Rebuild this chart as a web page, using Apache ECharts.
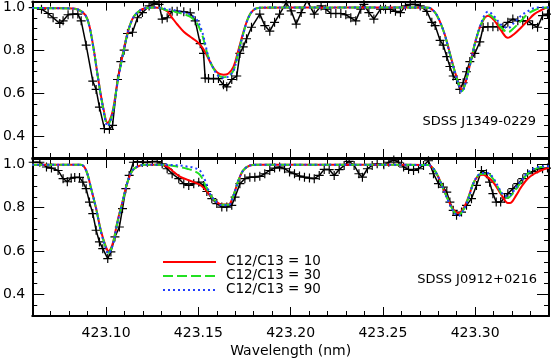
<!DOCTYPE html>
<html><head><meta charset="utf-8">
<script src="https://cdn.jsdelivr.net/npm/echarts@6/dist/echarts.min.js"></script>
<style>html,body{margin:0;padding:0;background:#fff}#c{width:551px;height:362px}</style>
</head><body><div id="c"></div>
<script>
// ---- axis ranges & tick labels ----
const xMin = 423.06, xMax = 423.34;
const yMin = 0.3, yMax = 1.025;
const xMajorTicks = [423.10, 423.15, 423.20, 423.25, 423.30];
const yMajorTicks = [0.4, 0.6, 0.8, 1.0];
const legendLabels = ['C12/C13 = 10', 'C12/C13 = 30', 'C12/C13 = 90'];
const panelLabels = ['SDSS J1349-0229', 'SDSS J0912+0216'];

// ---- top panel: observed spectrum (SDSS J1349-0229) ----
const obsTopWave = [423.0605,423.0650,423.0686,423.0713,423.0749,423.0767,423.0794,423.0820,423.0847,423.0865,423.0892,423.0928,423.0946,423.0964,423.0991,423.1018,423.1035,423.1062,423.1080,423.1098,423.1116,423.1143,423.1170,423.1197,423.1233,423.1260,423.1287,423.1304,423.1331,423.1358,423.1385,423.1421,423.1456,423.1483,423.1510,423.1528,423.1537,423.1555,423.1582,423.1609,423.1636,423.1654,423.1681,423.1708,423.1725,423.1743,423.1761,423.1788,423.1833,423.1860,423.1887,423.1913,423.1940,423.1976,423.2003,423.2030,423.2057,423.2089,423.2128,423.2165,423.2191,423.2218,423.2245,423.2272,423.2299,423.2326,423.2353,423.2380,423.2397,423.2424,423.2451,423.2487,423.2514,423.2541,423.2568,423.2595,423.2622,423.2648,423.2675,423.2702,423.2738,423.2765,423.2783,423.2810,423.2827,423.2846,423.2863,423.2881,423.2899,423.2917,423.2935,423.2953,423.2971,423.2998,423.3025,423.3043,423.3069,423.3096,423.3123,423.3150,423.3177,423.3204,423.3231,423.3258,423.3284,423.3311,423.3338,423.3365,423.3392];
const obsTopFlux = [0.997,0.99,0.97,0.95,0.924,0.936,0.964,0.967,0.967,0.936,0.823,0.656,0.618,0.536,0.436,0.433,0.451,0.664,0.747,0.80,0.877,0.883,0.95,0.974,1.005,1.015,1.012,0.944,0.95,0.98,0.98,0.978,0.973,0.936,0.83,0.785,0.67,0.668,0.668,0.668,0.64,0.63,0.664,0.68,0.785,0.815,0.853,0.906,0.967,0.914,0.888,0.929,0.967,1.02,0.982,0.921,0.974,1.03,0.967,1.005,0.99,0.97,0.97,0.97,0.964,0.95,0.936,0.99,1.012,0.974,0.944,0.99,0.99,0.99,0.98,0.974,1.005,1.012,1.012,1.005,0.98,0.929,0.914,0.845,0.823,0.77,0.724,0.68,0.664,0.618,0.649,0.70,0.747,0.785,0.838,0.906,0.909,0.909,0.909,0.906,0.929,0.944,0.936,0.936,0.936,0.918,0.906,0.96,0.967];

// ---- top panel: synthetic spectra ----
const modTopWave = [423.0600,423.0820,423.0874,423.0901,423.0928,423.0955,423.0982,423.1009,423.1035,423.1062,423.1089,423.1116,423.1143,423.1170,423.1206,423.1260,423.1294,423.1331,423.1358,423.1385,423.1421,423.1456,423.1492,423.1519,423.1537,423.1555,423.1582,423.1609,423.1636,423.1663,423.1690,423.1717,423.1743,423.1770,423.1797,423.1833,423.2057,423.2191,423.2326,423.2595,423.2747,423.2783,423.2810,423.2837,423.2863,423.2890,423.2917,423.2928,423.2944,423.2971,423.2998,423.3025,423.3052,423.3069,423.3105,423.3141,423.3177,423.3213,423.3249,423.3284,423.3320,423.3356,423.3392,423.3400];
const modTopR10 = [0.995,0.993,0.975,0.94,0.83,0.68,0.545,0.462,0.515,0.655,0.775,0.878,0.945,0.975,0.993,0.998,0.995,0.98,0.95,0.92,0.885,0.862,0.84,0.815,0.79,0.76,0.717,0.692,0.686,0.692,0.722,0.80,0.88,0.95,0.985,0.997,0.998,0.997,0.998,0.998,0.997,0.974,0.93,0.868,0.785,0.70,0.632,0.615,0.64,0.73,0.83,0.905,0.95,0.96,0.936,0.89,0.857,0.876,0.905,0.936,0.967,0.985,0.998,0.998];
const modTopR30 = [0.995,0.993,0.975,0.936,0.828,0.678,0.54,0.452,0.508,0.65,0.77,0.876,0.945,0.975,0.993,0.998,0.995,0.985,0.982,0.975,0.967,0.955,0.925,0.875,0.82,0.765,0.715,0.682,0.674,0.68,0.705,0.79,0.875,0.948,0.985,0.997,0.998,0.997,0.998,0.998,0.997,0.974,0.93,0.866,0.782,0.698,0.628,0.61,0.638,0.728,0.828,0.905,0.955,0.965,0.945,0.905,0.883,0.905,0.936,0.967,0.985,0.995,0.998,0.998];
const modTopR90 = [0.995,0.993,0.975,0.936,0.828,0.678,0.54,0.448,0.506,0.648,0.77,0.876,0.945,0.975,0.993,0.998,0.995,0.99,0.987,0.982,0.975,0.965,0.94,0.89,0.83,0.768,0.715,0.68,0.672,0.678,0.703,0.79,0.875,0.948,0.985,0.997,0.998,0.997,0.998,0.998,0.997,0.974,0.93,0.866,0.782,0.698,0.626,0.607,0.636,0.728,0.83,0.908,0.965,0.978,0.955,0.918,0.902,0.929,0.96,0.98,0.995,0.998,0.998,0.998];

// ---- bottom panel: observed spectrum (SDSS J0912+0216) ----
const obsBotWave = [423.0605,423.0641,423.0677,423.0704,423.0740,423.0767,423.0790,423.0811,423.0830,423.0856,423.0874,423.0892,423.0910,423.0928,423.0946,423.0964,423.0982,423.1009,423.1026,423.1048,423.1072,423.1089,423.1107,423.1125,423.1148,423.1170,423.1197,423.1224,423.1251,423.1277,423.1304,423.1331,423.1358,423.1394,423.1421,423.1448,423.1475,423.1502,423.1528,423.1546,423.1573,423.1600,423.1627,423.1654,423.1681,423.1699,423.1725,423.1752,423.1779,423.1806,423.1833,423.1860,423.1887,423.1913,423.1940,423.1967,423.1994,423.2021,423.2048,423.2075,423.2102,423.2128,423.2155,423.2182,423.2209,423.2236,423.2263,423.2290,423.2317,423.2344,423.2370,423.2389,423.2416,423.2442,423.2469,423.2505,423.2532,423.2559,423.2585,423.2612,423.2639,423.2666,423.2693,423.2720,423.2747,423.2774,423.2801,423.2827,423.2846,423.2863,423.2881,423.2899,423.2926,423.2953,423.2980,423.3007,423.3034,423.3061,423.3078,423.3096,423.3114,423.3138,423.3159,423.3177,423.3204,423.3231,423.3258,423.3284,423.3311,423.3338,423.3365,423.3392];
const obsBotFlux = [1.01,1.01,0.988,0.983,0.972,0.934,0.92,0.937,0.94,0.94,0.918,0.888,0.826,0.773,0.696,0.642,0.611,0.565,0.596,0.665,0.711,0.796,0.888,0.949,1.01,1.013,1.01,1.01,1.013,1.013,1.003,0.98,0.957,0.934,0.911,0.903,0.911,0.918,0.903,0.875,0.842,0.819,0.803,0.803,0.811,0.849,0.911,0.934,0.941,0.941,0.945,0.957,0.972,0.983,0.988,0.98,0.965,0.957,0.946,0.941,0.937,0.934,0.949,0.977,0.976,0.949,0.976,0.995,1.014,0.995,0.957,0.941,0.98,0.995,1.003,0.998,1.01,1.02,1.01,0.988,0.977,0.972,0.98,0.995,1.017,0.957,0.911,0.895,0.872,0.826,0.788,0.765,0.78,0.811,0.842,0.903,0.972,0.957,0.918,0.865,0.826,0.826,0.845,0.865,0.888,0.911,0.934,0.957,0.967,0.98,0.98,0.983];

// ---- bottom panel: synthetic spectra ----
const modBotWave = [423.0600,423.0863,423.0892,423.0919,423.0946,423.0973,423.1000,423.1012,423.1035,423.1062,423.1089,423.1116,423.1143,423.1170,423.1206,423.1294,423.1331,423.1367,423.1403,423.1439,423.1475,423.1510,423.1537,423.1564,423.1591,423.1627,423.1663,423.1690,423.1717,423.1743,423.1779,423.1815,423.2057,423.2326,423.2595,423.2747,423.2774,423.2801,423.2827,423.2854,423.2881,423.2908,423.2935,423.2962,423.2989,423.3016,423.3043,423.3069,423.3096,423.3123,423.3150,423.3177,423.3195,423.3222,423.3249,423.3284,423.3320,423.3356,423.3392,423.3400];
const modBotR10 = [0.998,0.998,0.972,0.888,0.796,0.69,0.617,0.60,0.632,0.738,0.828,0.918,0.972,0.99,0.998,0.998,0.99,0.965,0.942,0.93,0.918,0.905,0.885,0.857,0.832,0.815,0.815,0.857,0.926,0.972,0.995,0.998,0.998,0.998,0.998,0.997,0.98,0.941,0.888,0.836,0.792,0.775,0.795,0.845,0.911,0.947,0.952,0.94,0.92,0.885,0.849,0.822,0.824,0.857,0.895,0.934,0.957,0.972,0.983,0.984];
const modBotR30 = [0.998,0.998,0.972,0.888,0.796,0.688,0.613,0.592,0.627,0.734,0.826,0.918,0.972,0.99,0.998,0.998,0.997,0.993,0.987,0.98,0.97,0.95,0.905,0.86,0.832,0.814,0.814,0.857,0.926,0.972,0.995,0.998,0.998,0.998,0.998,0.997,0.98,0.941,0.888,0.834,0.788,0.765,0.788,0.842,0.911,0.949,0.957,0.957,0.934,0.895,0.857,0.846,0.857,0.888,0.918,0.957,0.977,0.988,0.99,0.99];
const modBotR90 = [0.998,0.998,0.972,0.888,0.796,0.686,0.61,0.588,0.625,0.733,0.826,0.918,0.972,0.99,0.998,0.998,0.998,0.997,0.995,0.99,0.985,0.97,0.925,0.862,0.832,0.812,0.812,0.855,0.926,0.972,0.995,0.998,0.998,0.998,0.998,0.997,0.98,0.94,0.886,0.832,0.786,0.762,0.786,0.84,0.91,0.95,0.96,0.96,0.94,0.90,0.862,0.852,0.862,0.895,0.925,0.962,0.982,0.99,0.992,0.992];

// ---- helpers ----
const FONT = 'DejaVu Sans';
const zip = (a, b) => a.map((v, i) => [v, b[i]]);
const xMinorTicks = [];
for (let i = 0; i <= 28; i++) xMinorTicks.push(+(xMin + i * 0.01).toFixed(2));
const yMinorTicks = [];
for (let i = 0; i <= 14; i++) yMinorTicks.push(+(yMin + i * 0.05).toFixed(2));

const COL = {obs: '#000000', r10: '#ff0000', r30: '#22e022', r90: '#1f3dff'};

function xAxesFor(g, showLabels) {
  const base = {type: 'value', gridIndex: g, min: xMin, max: xMax, splitLine: {show: false}};
  const major = (pos) => Object.assign({}, base, {
    position: pos,
    axisLine: {show: true, onZero: false, lineStyle: {color: '#000', width: 2}},
    axisTick: {show: true, inside: true, length: 9, customValues: xMajorTicks, lineStyle: {color: '#000', width: 1}},
    axisLabel: {show: showLabels && pos === 'bottom', customValues: xMajorTicks, formatter: v => v.toFixed(2),
      color: '#000', fontFamily: FONT, fontSize: 14, margin: 10},
    name: (showLabels && pos === 'bottom') ? 'Wavelength (nm)' : '',
    nameLocation: 'middle', nameGap: 28,
    nameTextStyle: {color: '#000', fontFamily: FONT, fontSize: 14}
  });
  const minor = (pos) => Object.assign({}, base, {
    position: pos,
    axisLine: {show: false, onZero: false},
    axisTick: {show: true, inside: true, length: 5, customValues: xMinorTicks, lineStyle: {color: '#000', width: 1}},
    axisLabel: {show: false}
  });
  return [major('bottom'), minor('bottom'), major('top'), minor('top')];
}
function yAxesFor(g) {
  const base = {type: 'value', gridIndex: g, min: yMin, max: yMax, splitLine: {show: false}};
  const major = (pos) => Object.assign({}, base, {
    position: pos,
    axisLine: {show: true, onZero: false, lineStyle: {color: '#000', width: 2}},
    axisTick: {show: true, inside: true, length: 12, customValues: yMajorTicks, lineStyle: {color: '#000', width: 1}},
    axisLabel: {show: pos === 'left', customValues: yMajorTicks, formatter: v => v.toFixed(1),
      color: '#000', fontFamily: FONT, fontSize: 14, margin: 7}
  });
  const minor = (pos) => Object.assign({}, base, {
    position: pos,
    axisLine: {show: false, onZero: false},
    axisTick: {show: true, inside: true, length: 5, customValues: yMinorTicks, lineStyle: {color: '#000', width: 1}},
    axisLabel: {show: false}
  });
  return [major('left'), minor('left'), major('right'), minor('right')];
}

const PLUS = 'path://M-1,-0.13L1,-0.13L1,0.13L-1,0.13Z M-0.13,-1L0.13,-1L0.13,1L-0.13,1Z';
function obsSeries(idx, data) {
  return {type: 'line', xAxisIndex: idx, yAxisIndex: idx, data: data, symbol: PLUS, symbolSize: 9,
    showSymbol: true, showAllSymbol: true, itemStyle: {color: '#000'},
    lineStyle: {color: COL.obs, width: 1.5}, z: 2, silent: true};
}
function modSeries(idx, data, color, type, z) {
  return {type: 'line', xAxisIndex: idx, yAxisIndex: idx, data: data, symbol: 'none', smooth: 0.35,
    lineStyle: {color: color, width: 2, type: type}, z: z, silent: true};
}
const DASH = [10, 4], DOT = [2, 3];

const option = {
  animation: false,
  backgroundColor: '#fff',
  grid: [
    {left: 29, right: 2, top: 0, height: 158},
    {left: 29, right: 2, top: 159, height: 157}
  ],
  xAxis: xAxesFor(0, false).concat(xAxesFor(1, true)),
  yAxis: yAxesFor(0).concat(yAxesFor(1)),
  series: [
    obsSeries(0, zip(obsTopWave, obsTopFlux)),
    modSeries(0, zip(modTopWave, modTopR10), COL.r10, 'solid', 3),
    modSeries(0, zip(modTopWave, modTopR30), COL.r30, DASH, 4),
    modSeries(0, zip(modTopWave, modTopR90), COL.r90, DOT, 5),
    obsSeries(4, zip(obsBotWave, obsBotFlux)),
    modSeries(4, zip(modBotWave, modBotR10), COL.r10, 'solid', 3),
    modSeries(4, zip(modBotWave, modBotR30), COL.r30, DASH, 4),
    modSeries(4, zip(modBotWave, modBotR90), COL.r90, DOT, 5)
  ],
  graphic: [
    {type: 'text', x: 536, y: 122, style: {text: panelLabels[0], fill: '#000', font: '13px "DejaVu Sans"', align: 'right', verticalAlign: 'middle'}},
    {type: 'text', x: 537, y: 280, style: {text: panelLabels[1], fill: '#000', font: '13px "DejaVu Sans"', align: 'right', verticalAlign: 'middle'}},
    {type: 'line', shape: {x1: 163, y1: 262, x2: 216, y2: 262}, style: {stroke: COL.r10, lineWidth: 2}},
    {type: 'line', shape: {x1: 163, y1: 276, x2: 216, y2: 276}, style: {stroke: COL.r30, lineWidth: 2, lineDash: DASH}},
    {type: 'line', shape: {x1: 163, y1: 290, x2: 216, y2: 290}, style: {stroke: COL.r90, lineWidth: 2, lineDash: DOT}},
    {type: 'text', x: 226, y: 261, style: {text: legendLabels[0], fill: '#000', font: '13.5px "DejaVu Sans"', verticalAlign: 'middle'}},
    {type: 'text', x: 226, y: 275, style: {text: legendLabels[1], fill: '#000', font: '13.5px "DejaVu Sans"', verticalAlign: 'middle'}},
    {type: 'text', x: 226, y: 289, style: {text: legendLabels[2], fill: '#000', font: '13.5px "DejaVu Sans"', verticalAlign: 'middle'}}
  ]
};
const chart = echarts.init(document.getElementById('c'), null, {renderer: 'canvas'});
chart.setOption(option);
</script></body></html>
